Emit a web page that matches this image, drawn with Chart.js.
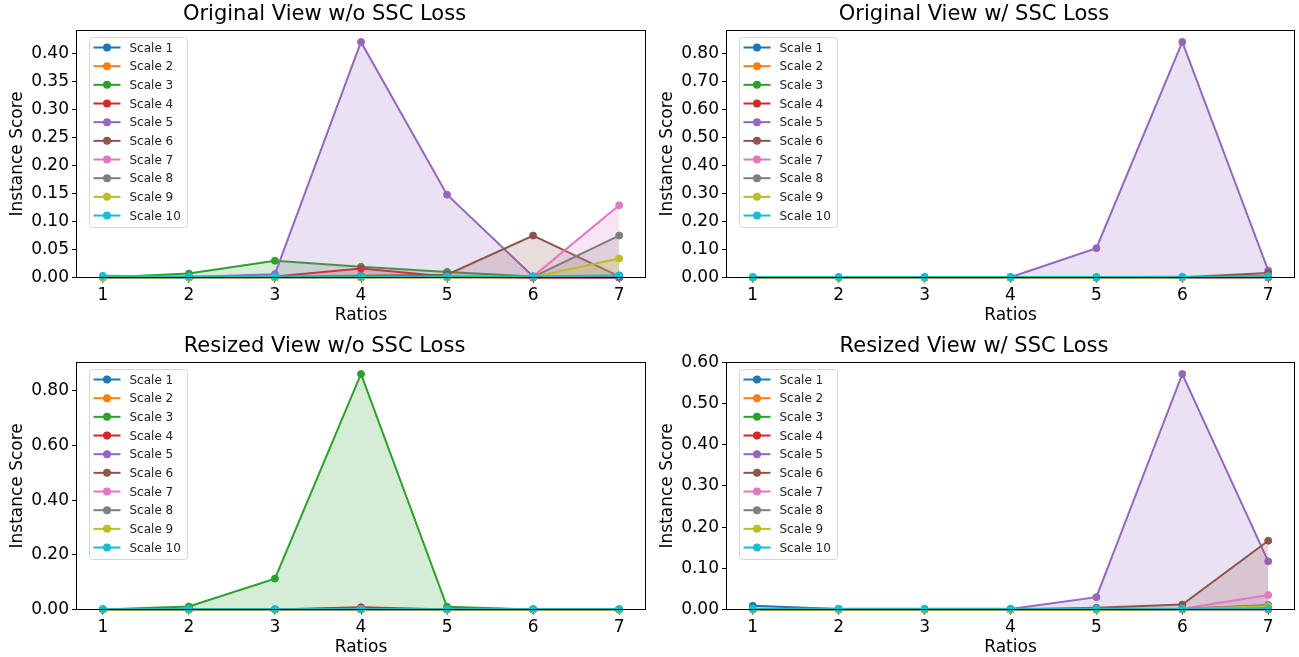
<!DOCTYPE html>
<html>
<head>
<meta charset="utf-8">
<title>Instance Score per Ratio</title>
<script src="https://cdn.jsdelivr.net/npm/chart.js@4.4.1/dist/chart.umd.min.js"></script>
<style>
  body { margin: 0; background: #fff; width: 1299px; height: 657px; overflow: hidden; position: relative; }
  canvas { position: absolute; }
</style>
</head>
<body>
<canvas id="origNoSscChart" width="650" height="328" style="left:0;top:0"></canvas>
<canvas id="origSscChart" width="649" height="328" style="left:650px;top:0"></canvas>
<canvas id="resizedNoSscChart" width="650" height="328" style="left:0;top:332px"></canvas>
<canvas id="resizedSscChart" width="649" height="328" style="left:650px;top:332px"></canvas>
<script>
const ratios = [1, 2, 3, 4, 5, 6, 7];
const scaleNames = ['Scale 1', 'Scale 2', 'Scale 3', 'Scale 4', 'Scale 5', 'Scale 6', 'Scale 7', 'Scale 8', 'Scale 9', 'Scale 10'];
const colors = ['#1f77b4', '#ff7f0e', '#2ca02c', '#d62728', '#9467bd', '#8c564b', '#e377c2', '#7f7f7f', '#bcbd22', '#17becf'];

// one row per scale, one value per ratio
const origNoSsc = [
    [0.000, 0.001, 0.001, 0.001, 0.001, 0.000, 0.000],
    [0.000, 0.000, 0.001, 0.001, 0.000, 0.000, 0.000],
    [0.000, 0.007, 0.030, 0.019, 0.010, 0.002, 0.001],
    [0.000, 0.000, 0.002, 0.016, 0.002, 0.000, 0.000],
    [0.000, 0.001, 0.006, 0.421, 0.148, 0.002, 0.000],
    [0.000, 0.000, 0.001, 0.003, 0.005, 0.075, 0.002],
    [0.000, 0.000, 0.000, 0.000, 0.001, 0.002, 0.129],
    [0.000, 0.000, 0.000, 0.000, 0.001, 0.001, 0.075],
    [0.000, 0.000, 0.000, 0.000, 0.000, 0.001, 0.034],
    [0.003, 0.002, 0.002, 0.002, 0.002, 0.002, 0.004]
];
const origSsc = [
    [0.000, 0.000, 0.000, 0.000, 0.000, 0.000, 0.000],
    [0.000, 0.000, 0.000, 0.000, 0.000, 0.000, 0.000],
    [0.000, 0.000, 0.000, 0.000, 0.000, 0.000, 0.004],
    [0.000, 0.000, 0.000, 0.000, 0.000, 0.000, 0.002],
    [0.000, 0.000, 0.000, 0.001, 0.105, 0.842, 0.025],
    [0.000, 0.000, 0.000, 0.000, 0.000, 0.001, 0.016],
    [0.000, 0.000, 0.000, 0.000, 0.000, 0.000, 0.003],
    [0.000, 0.000, 0.000, 0.000, 0.000, 0.000, 0.005],
    [0.000, 0.000, 0.000, 0.000, 0.000, 0.000, 0.003],
    [0.002, 0.002, 0.002, 0.002, 0.002, 0.003, 0.003]
];
const resizedNoSsc = [
    [0.000, 0.000, 0.000, 0.000, 0.000, 0.000, 0.000],
    [0.000, 0.000, 0.000, 0.000, 0.000, 0.000, 0.000],
    [0.000, 0.011, 0.113, 0.861, 0.010, 0.000, 0.000],
    [0.000, 0.000, 0.000, 0.008, 0.000, 0.000, 0.000],
    [0.000, 0.000, 0.000, 0.002, 0.000, 0.000, 0.000],
    [0.000, 0.000, 0.000, 0.005, 0.000, 0.000, 0.000],
    [0.000, 0.000, 0.000, 0.002, 0.000, 0.000, 0.000],
    [0.000, 0.000, 0.000, 0.001, 0.000, 0.000, 0.000],
    [0.000, 0.000, 0.000, 0.001, 0.000, 0.000, 0.000],
    [0.002, 0.002, 0.002, 0.002, 0.002, 0.002, 0.002]
];
const resizedSsc = [
    [0.009, 0.001, 0.000, 0.000, 0.000, 0.000, 0.000],
    [0.000, 0.000, 0.000, 0.000, 0.000, 0.000, 0.000],
    [0.000, 0.000, 0.000, 0.000, 0.001, 0.002, 0.010],
    [0.000, 0.000, 0.000, 0.000, 0.000, 0.001, 0.004],
    [0.000, 0.000, 0.000, 0.001, 0.030, 0.572, 0.117],
    [0.000, 0.000, 0.000, 0.000, 0.004, 0.012, 0.167],
    [0.000, 0.000, 0.000, 0.000, 0.001, 0.002, 0.035],
    [0.000, 0.000, 0.000, 0.000, 0.000, 0.001, 0.011],
    [0.000, 0.000, 0.000, 0.000, 0.000, 0.001, 0.008],
    [0.002, 0.002, 0.002, 0.002, 0.002, 0.002, 0.002]
];

const origNoSscTicks = [0, 0.05, 0.10, 0.15, 0.20, 0.25, 0.30, 0.35, 0.40];
const origSscTicks = [0, 0.10, 0.20, 0.30, 0.40, 0.50, 0.60, 0.70, 0.80];
const resizedNoSscTicks = [0, 0.20, 0.40, 0.60, 0.80];
const resizedSscTicks = [0, 0.10, 0.20, 0.30, 0.40, 0.50, 0.60];

const FONT = 'DejaVu Sans';

function fade(hex, alpha) {
    const n = parseInt(hex.slice(1), 16);
    return `rgba(${n >> 16}, ${(n >> 8) & 255}, ${n & 255}, ${alpha})`;
}

// axes box + matplotlib style legend in the upper left corner
const frameAndLegend = {
    id: 'frameAndLegend',
    afterDatasetsDraw(chart) {
        const { ctx, chartArea: a } = chart;
        ctx.save();
        ctx.strokeStyle = '#000';
        ctx.lineWidth = 1;
        ctx.strokeRect(Math.round(a.left) - 0.5, Math.round(a.top) + 0.5, Math.round(a.width) + 1, Math.round(a.height));

        const x0 = Math.round(a.left) + 12.5;
        const y0 = Math.round(a.top) + 7.5;
        ctx.fillStyle = 'rgba(255,255,255,0.8)';
        ctx.strokeStyle = '#d6d6d6';
        ctx.beginPath();
        ctx.roundRect(x0, y0, 98, 190, 3);
        ctx.fill();
        ctx.stroke();

        ctx.font = `12px "${FONT}"`;
        ctx.textBaseline = 'middle';
        chart.data.datasets.forEach((ds, i) => {
            const y = y0 + 10 + i * 18.67;
            ctx.strokeStyle = ds.borderColor;
            ctx.lineWidth = 2;
            ctx.beginPath();
            ctx.moveTo(x0 + 4, y);
            ctx.lineTo(x0 + 31, y);
            ctx.stroke();
            ctx.fillStyle = ds.borderColor;
            ctx.beginPath();
            ctx.arc(x0 + 17.5, y, 4, 0, Math.PI * 2);
            ctx.fill();
            ctx.fillStyle = '#222';
            ctx.fillText(ds.label, x0 + 40, y + 1);
        });
        ctx.restore();
    }
};

function makeChart(id, title, series, yTicks) {
    const yMax = Math.max(...series.flat()) * 1.05;
    new Chart(document.getElementById(id), {
        type: 'line',
        data: {
            datasets: series.map((vals, i) => ({
                label: scaleNames[i],
                data: ratios.map((r, j) => ({ x: r, y: vals[j] })),
                borderColor: colors[i],
                backgroundColor: fade(colors[i], 0.2),
                pointBackgroundColor: colors[i],
                pointBorderColor: colors[i],
                borderWidth: 2,
                pointRadius: 3.5,
                pointBorderWidth: 1,
                fill: 'origin',
                tension: 0,
                clip: false,
                order: series.length - i
            }))
        },
        options: {
            responsive: false,
            animation: false,
            events: [],
            layout: { padding: { right: 1 } },
            plugins: {
                legend: { display: false },
                tooltip: { enabled: false },
                title: {
                    display: true,
                    text: title,
                    color: '#000',
                    font: { family: FONT, size: 21, weight: 'normal' },
                    padding: { top: 2, bottom: 3 }
                }
            },
            scales: {
                x: {
                    type: 'linear',
                    min: 0.7,
                    max: 7.3,
                    afterBuildTicks: s => { s.ticks = ratios.map(v => ({ value: v })); },
                    afterFit: s => { s.height = 50.5; },
                    ticks: { callback: v => String(v), color: '#000', font: { family: FONT, size: 17 }, padding: 3, maxRotation: 0 },
                    grid: { drawOnChartArea: false, tickLength: 5, color: '#000' },
                    border: { display: false },
                    title: { display: true, text: 'Ratios', color: '#000', font: { family: FONT, size: 17 }, padding: { top: 0, bottom: 2 } }
                },
                y: {
                    min: 0,
                    max: yMax,
                    afterBuildTicks: s => { s.ticks = yTicks.map(v => ({ value: v })); },
                    afterFit: s => { s.width = 77; },
                    ticks: { callback: v => v.toFixed(2), color: '#000', font: { family: FONT, size: 17 }, padding: 3 },
                    grid: { drawOnChartArea: false, tickLength: 5, color: '#000' },
                    border: { display: false },
                    title: { display: true, text: 'Instance Score', color: '#000', font: { family: FONT, size: 17 }, padding: { top: 7, bottom: 0 } }
                }
            }
        },
        plugins: [frameAndLegend]
    });
}

makeChart('origNoSscChart', 'Original View w/o SSC Loss', origNoSsc, origNoSscTicks);
makeChart('origSscChart', 'Original View w/ SSC Loss', origSsc, origSscTicks);
makeChart('resizedNoSscChart', 'Resized View w/o SSC Loss', resizedNoSsc, resizedNoSscTicks);
makeChart('resizedSscChart', 'Resized View w/ SSC Loss', resizedSsc, resizedSscTicks);
</script>
</body>
</html>
